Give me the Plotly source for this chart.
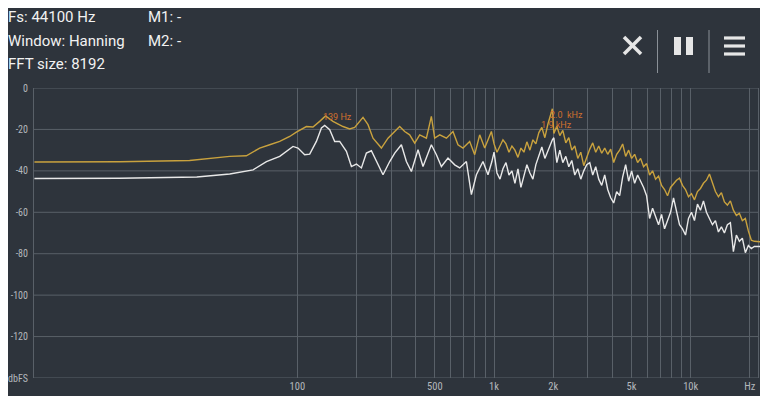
import plotly.graph_objects as go
import math

# ---- data ----
# peak-hold trace (gold), below 1 kHz
peak_freq_lo = [4.6, 12.5, 28.3, 45.3, 55.0, 64.3, 72.3, 81.3, 91.4, 98.8, 111.1, 120, 129.8, 139, 151.7,
                170.6, 184.5, 195.6, 215.6, 228.6, 242.4, 267.4, 288.9, 312.6, 331.3, 351.3, 372.4, 395,
                418.8, 452.9, 480, 499, 529.6, 572.6, 618.3, 655.5, 695.3, 751.9, 797.2, 845.3, 896.6,
                969.4]
peak_db_lo = [-35.7, -35.6, -35.0, -33.0, -32.7, -29.0, -27.4, -25.8, -23.4, -21.3, -18.6, -18.8, -16.1, -13.5, -16.1,
              -18.6, -19.8, -19.0, -14.2, -17.7, -24.2, -29.0, -24.2, -21.0, -18.6, -21.0, -22.6, -26.6,
              -22.6, -24.2, -13.7, -24.2, -22.6, -24.2, -21.0, -27.4, -29.0, -25.8, -32.2, -22.6, -29.0,
              -21.0]
# current trace (white), below 1 kHz
cur_freq_lo = [4.6, 12.5, 30.8, 45.3, 59.5, 69.6, 81.3, 87.9, 95.0, 100.7, 108.9, 115.5, 124.9, 132.5, 137.7,
               146, 154.8, 164.1, 177.5, 188.2, 199.5, 211.6, 224.3, 237.8, 252.2, 272.5, 294.7, 312.6,
               337.9, 358.3, 379.9, 410.6, 435.3, 480, 509.2, 539.8, 583.3, 630.8, 668.8, 723.4, 767.0,
               813.3, 878.6, 931.7, 975.0]
cur_db_lo = [-43.7, -43.6, -43.0, -41.5, -39.5, -35.5, -33.0, -30.6, -28.2, -29.0, -32.2, -31.9, -25.8, -19.3, -18.1,
             -20.1, -25.8, -25.8, -30.6, -37.9, -36.7, -38.6, -31.4, -30.3, -35.5, -41.9, -35.5, -31.4,
             -27.4, -35.5, -40.3, -29.8, -37.9, -27.4, -32.2, -37.9, -33.8, -37.1, -38.6, -35.5, -51.5,
             -41.9, -35.5, -41.9, -35.5]

# above 1 kHz (shared frequency bins)
hi_freq = [1000, 1035, 1072, 1110, 1150, 1191, 1233, 1277, 1323, 1370, 1419, 1469, 1522, 1576, 1632,
           1690, 1750, 1813, 1878, 1980, 2014, 2086, 2160, 2237, 2317, 2400, 2485, 2574, 2666, 2761,
           2859, 2961, 3067, 3176, 3289, 3407, 3528, 3654, 3784, 3919, 4059, 4203, 4353, 4508, 4669,
           4836, 5008, 5187, 5372, 5563, 5762, 5967, 6180, 6400, 6629, 6865, 7110, 7363, 7626, 7898,
           8180, 8471, 8773, 9086, 9410, 9746, 10093, 10453, 10826, 11212, 11612, 12026, 12455, 12899,
           13359, 13835, 14329, 14840, 15369, 15917, 16485, 17073, 17682, 18312, 18965, 19642, 20342,
           21068, 21819, 22597, 23403, 24237]
peak_db_hi = [-27, -31, -28, -25, -27, -31, -28, -30, -33.5, -29, -31, -26, -30, -25, -27,
              -21.5, -19, -24, -17.5, -10, -22, -18.5, -23, -20.5, -26.5, -24, -30, -28, -34, -31,
              -37.5, -33, -29.5, -26.5, -31, -28, -31.5, -29, -32, -29.5, -36, -32, -30, -27, -33,
              -30, -34, -32, -36, -34, -38, -36.5, -42, -40, -44, -42.5, -47, -49, -52, -48,
              -46, -44.5, -43.5, -47, -49, -52.5, -51, -54, -50, -48.5, -46, -44.5, -41.5, -46,
              -50, -52.5, -50.5, -55, -56.5, -54.5, -59, -61.5, -60.5, -64, -63, -69, -73.5,
              -74, -74.2, -74.3, -74.5, -74.5]
cur_db_hi = [-31, -41, -44, -39, -36, -42, -40, -46, -39, -48, -42, -37, -41, -44, -37,
             -33, -28.5, -34, -30, -25, -24, -36, -30, -36, -33, -38, -35, -42, -39, -44,
             -40, -37, -36, -42, -38, -44, -47, -42, -49, -53, -55.5, -50, -52, -43, -37,
             -45, -40, -46, -42, -45, -48, -52, -63, -58, -62, -66, -61, -68, -64, -60,
             -53, -59, -66, -68, -71, -63, -60, -64, -56, -59, -54.5, -60, -63, -66,
             -64, -69.5, -67, -70, -66, -65, -79, -71, -74, -72.5, -79.5, -76, -77.5,
             -76.5, -76.5, -76.5, -76.5, -76.5]

peak_freq = peak_freq_lo + hi_freq
peak_db = peak_db_lo + peak_db_hi
cur_freq = cur_freq_lo + hi_freq
cur_db = cur_db_lo + cur_db_hi

y_tickvals = [-140, -120, -100, -80, -60, -40, -20, 0]
y_ticktext = ["dbFS", "-120", "-100", "-80", "-60", "-40", "-20", "0"]
x_tickvals = [100, 500, 1000, 2000, 5000, 10000, 20000]
x_ticktext = ["100", "500", "1k", "2k", "5k", "10k", "Hz"]
x_gridvals = [100, 200, 300, 400, 500, 600, 700, 800, 900, 1000, 2000, 3000, 4000, 5000,
              6000, 7000, 8000, 9000, 10000, 20000, 22050]
nyquist = 22050

info_left = ["Fs: 44100 Hz", "Window: Hanning", "FFT size: 8192"]
info_right = ["M1: -", "M2: -"]
peak_labels = [("139 Hz", 160, -13.9), ("2.0  kHz", 2340, -12.9), ("1.9 kHz", 2080, -17.7)]

# ---- styling ----
BG = "#2e343c"
GRID = "#596068"
TICK = "#b4b8bd"
GOLD = "#c9a23e"
WHITE = "#e8e8e8"
ORANGE = "#d0702e"
NARROW = "Roboto Condensed, Liberation Sans Narrow, DejaVu Sans Condensed, Roboto"

OFF = 8  # page body margin
W, H = 768 - OFF, 396 - OFF
L, R, T, B = 26, 0, 80, 18
PW, PH = W - L - R, H - T - B
XR = [0.6606, 0.6606 + PW / 196.65]


def px(sx):
    return (sx - OFF - L) / PW


def py(sy):
    return (H - B - (sy - OFF)) / PH


fig = go.Figure()
fig.add_trace(go.Scatter(x=peak_freq, y=peak_db, mode="lines",
                         line=dict(color=GOLD, width=1.4), hoverinfo="skip"))
fig.add_trace(go.Scatter(x=cur_freq, y=cur_db, mode="lines",
                         line=dict(color=WHITE, width=1.4), hoverinfo="skip"))

annotations = []
for i, t in enumerate(info_left):
    annotations.append(dict(text=t, x=px(6), y=py(17 + i * 23.5), xref="paper", yref="paper",
                            xanchor="left", yanchor="middle", showarrow=False,
                            font=dict(family="Roboto", size=15, color="#f2f2f2")))
for i, t in enumerate(info_right):
    annotations.append(dict(text=t, x=px(146), y=py(17 + i * 23.5), xref="paper", yref="paper",
                            xanchor="left", yanchor="middle", showarrow=False,
                            font=dict(family="Roboto", size=15, color="#f2f2f2")))
for t, f, d in peak_labels:
    annotations.append(dict(text=t, x=math.log10(f), y=d, xref="x", yref="y",
                            xanchor="center", yanchor="middle", showarrow=False,
                            font=dict(family="Roboto", size=9, color=ORANGE)))

shapes = []
x_edge = (math.log10(nyquist) - XR[0]) / (XR[1] - XR[0])
for yv in y_tickvals:
    shapes.append(dict(type="line", xref="paper", yref="y", x0=0, x1=x_edge, y0=yv, y1=yv,
                       layer="below", line=dict(color=GRID, width=1)))

ICON = "#e6e6e6"
for (x0, y0, x1, y1) in [(624, 37, 641, 54), (624, 54, 641, 37)]:
    shapes.append(dict(type="line", xref="paper", yref="paper", x0=px(x0), y0=py(y0),
                       x1=px(x1), y1=py(y1), line=dict(color=ICON, width=3.5)))
for sx in [657.5, 709]:
    shapes.append(dict(type="line", xref="paper", yref="paper", x0=px(sx), y0=py(30),
                       x1=px(sx), y1=py(73), line=dict(color="#8a9097", width=1)))
for (x0, x1) in [(674, 681), (686, 693)]:
    shapes.append(dict(type="rect", xref="paper", yref="paper", x0=px(x0), y0=py(37),
                       x1=px(x1), y1=py(55), fillcolor=ICON, line=dict(width=0)))
for yy in [38, 46, 54]:
    shapes.append(dict(type="rect", xref="paper", yref="paper", x0=px(724), y0=py(yy - 1.6),
                       x1=px(745), y1=py(yy + 1.6), fillcolor=ICON, line=dict(width=0)))

fig.update_layout(
    width=W, height=H,
    margin=dict(l=L, r=R, t=T, b=B, pad=0),
    paper_bgcolor=BG, plot_bgcolor=BG,
    showlegend=False,
    annotations=annotations,
    shapes=shapes,
    font=dict(family="Roboto", color=TICK, size=10),
)
fig.update_xaxes(type="log", range=XR, automargin=False,
                 tickvals=x_tickvals, ticktext=x_ticktext,
                 showgrid=False,
                 minor=dict(tickvals=x_gridvals, showgrid=True, gridcolor=GRID, gridwidth=1, ticks=""),
                 showline=False, ticks="", zeroline=False,
                 tickfont=dict(family=NARROW, size=10.5, color=TICK))
fig.update_yaxes(range=[-140, 0], automargin=False, tickvals=y_tickvals, ticktext=y_ticktext,
                 showgrid=False, showline=True, linecolor=GRID, linewidth=1, mirror=False,
                 ticks="", ticklabelstandoff=3, zeroline=False,
                 tickfont=dict(family=NARROW, size=10, color=TICK))

fig.write_html("out.html")
